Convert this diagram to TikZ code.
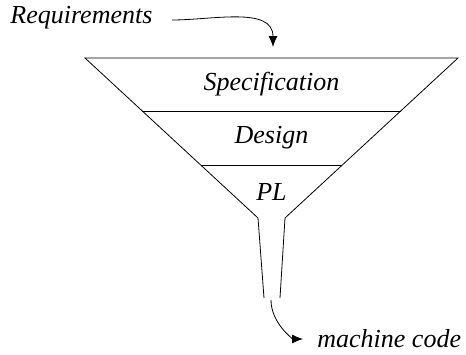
\documentclass[tikz,border=0pt]{standalone}
\usepackage{fontspec}
\setmainfont{Liberation Serif}
\usetikzlibrary{arrows.meta,calc}

\tikzset{
  stage/.style={font=\itshape\fontsize{26}{30}\selectfont, inner sep=0pt},
  flow/.style={-{Latex[length=11pt,width=9pt]}, line width=0.8pt}
}

\begin{document}
\begin{tikzpicture}[x=1pt, y=-1pt, line width=0.8pt]
		\useasboundingbox (0, 0) rectangle (466, 354);

		% funnel
		\coordinate (tl) at (85, 58);
		\coordinate (tr) at (458, 58);
		\coordinate (nl) at (258, 218);
		\coordinate (nr) at (285, 218);
		\draw (nl) -- (tl) -- (tr) -- (nr);
		\draw (nl) -- (264, 298);
		\draw (nr) -- (280, 298);

		% levels
		\draw ($(tl)!0.33125!(nl)$) -- ($(tr)!0.33125!(nr)$);
		\draw ($(tl)!0.66875!(nl)$) -- ($(tr)!0.66875!(nr)$);

		\node[stage] (spec) at (271.5, 84) {Specification};
		\node[stage] (design) at (271.5, 138) {Design};
		\node[stage] (pl) at (271.5, 192) {PL};

		% input and output
		\node[stage, anchor=west] (req) at (10, 18) {Requirements};
		\node[stage, anchor=west] (code) at (317, 339) {machine code};
		\coordinate (reqtail) at (172, 20);
		\coordinate (in) at (273, 47);
		\coordinate (out) at (271, 300);

		\draw [flow] (reqtail) to[out=0, in=90] (in);
		\draw [flow, shorten >=14pt] (out) to[out=-90, in=180] (code.west);
\end{tikzpicture}
\end{document}
